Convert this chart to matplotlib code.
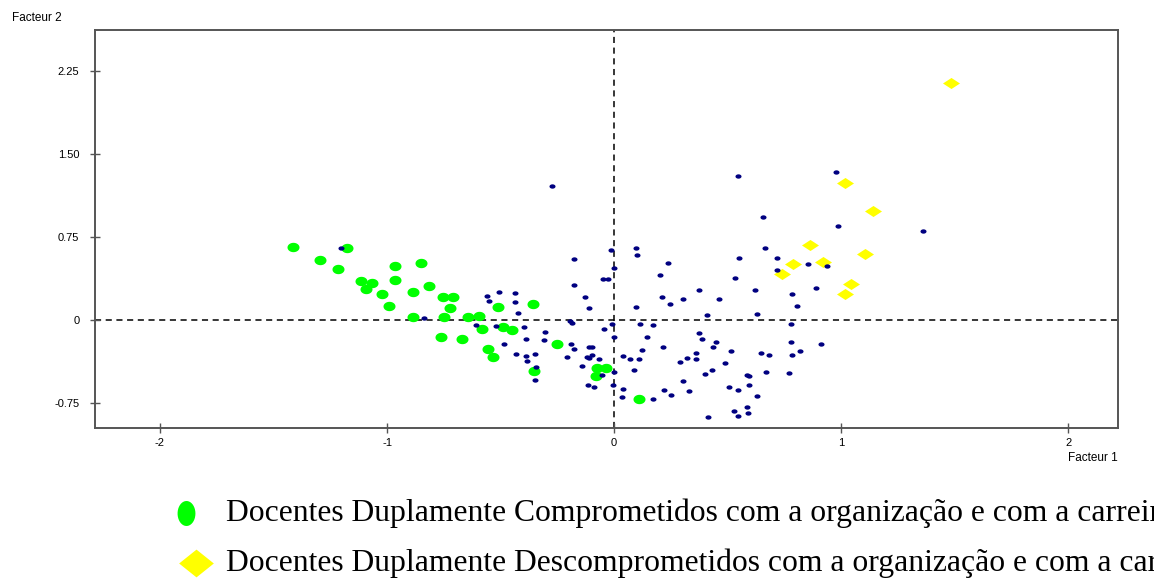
import matplotlib
matplotlib.use('Agg')
import matplotlib.pyplot as plt
import numpy as np
from matplotlib.path import Path
from matplotlib.lines import Line2D

# ── Data (factor coordinates) ─────────────────────────────────────────────────
other_x = [-1.201, -0.175, -0.175, -0.126, -0.109, -0.558, -0.505, -0.437, -0.552, -0.437,
           -0.424, -0.836, -0.608, -0.520, -0.396, -0.194, -0.186, -0.303, -0.389, -0.308,
           -0.483, -0.188, -0.176, -0.109, -0.432, -0.389, -0.349, -0.383, -0.208, -0.120,
           -0.109, -0.344, -0.141, -0.349, -0.116, -0.274, 0.545, -0.012, 0.097, 0.103,
           0.238, 0.001, 0.204, -0.048, -0.025, 0.534, 0.551, 0.373, 0.211, 0.305,
           0.461, 0.245, 0.097, 0.407, -0.010, 0.116, 0.170, -0.045, 0.373, 0.144,
           0.001, 0.388, 0.448, 0.435, 0.217, -0.098, -0.098, -0.065, 0.041, 0.070,
           0.110, 0.123, 0.515, 0.361, 0.320, 0.360, 0.292, 0.488, 0.088, -0.052,
           0.001, 0.429, 0.401, 0.305, -0.087, -0.006, 0.041, 0.219, 0.332, 0.251,
           0.034, 0.170, 0.508, 0.545, 0.413, 0.527, 0.545, 0.975, 0.656, 0.988,
           1.360, 0.664, 0.718, 0.853, 0.937, 0.717, 0.622, 0.887, 0.785, 0.805,
           0.630, 0.778, 0.778, 0.913, 0.649, 0.684, 0.785, 0.819, 0.670, 0.772,
           0.587, 0.596, 0.596, 0.629, 0.585, 0.589]
other_y = [0.653, 0.551, 0.316, 0.205, 0.111, 0.214, 0.253, 0.244, 0.169, 0.160,
           0.066, 0.018, -0.045, -0.057, -0.066, -0.006, -0.030, -0.111, -0.169, -0.178,
           -0.217, -0.214, -0.262, -0.244, -0.310, -0.328, -0.310, -0.373, -0.337, -0.337,
           -0.346, -0.422, -0.413, -0.542, -0.587, 1.208, 1.301, 0.635, 0.653, 0.587,
           0.512, 0.467, 0.409, 0.373, 0.373, 0.382, 0.560, 0.274, 0.205, 0.187,
           0.187, 0.147, 0.120, 0.045, -0.036, -0.039, -0.048, -0.084, -0.115, -0.151,
           -0.151, -0.169, -0.199, -0.244, -0.244, -0.244, -0.316, -0.350, -0.328, -0.350,
           -0.350, -0.274, -0.283, -0.301, -0.341, -0.355, -0.377, -0.386, -0.452, -0.497,
           -0.467, -0.452, -0.488, -0.554, -0.608, -0.590, -0.626, -0.635, -0.644, -0.675,
           -0.693, -0.711, -0.608, -0.635, -0.874, -0.822, -0.867, 1.337, 0.933, 0.849,
           0.804, 0.653, 0.560, 0.503, 0.491, 0.452, 0.271, 0.289, 0.232, 0.129,
           0.054, -0.039, -0.199, -0.217, -0.301, -0.319, -0.319, -0.280, -0.467, -0.476,
           -0.497, -0.506, -0.590, -0.684, -0.786, -0.843]

committed_x = [-1.413, -1.178, -1.295, -1.215, -0.965, -0.850, -1.115, -1.065, -1.093, -0.965,
               -1.023, -0.884, -0.815, -0.991, -0.752, -0.708, -0.722, -0.884, -0.749, -0.642,
               -0.593, -0.580, -0.512, -0.356, -0.488, -0.449, -0.762, -0.668, -0.554, -0.532,
               -0.250, -0.351, -0.076, -0.037, -0.081, 0.110]
committed_y = [0.662, 0.653, 0.542, 0.458, 0.488, 0.518, 0.355, 0.337, 0.280, 0.364,
               0.235, 0.256, 0.310, 0.129, 0.205, 0.205, 0.111, 0.030, 0.027, 0.027,
               0.039, -0.079, 0.120, 0.142, -0.061, -0.090, -0.156, -0.169, -0.265, -0.334,
               -0.214, -0.458, -0.436, -0.431, -0.503, -0.711]

uncommitted_x = [1.485, 1.018, 1.140, 0.862, 1.106, 0.787, 0.918, 0.741, 1.044, 1.018]
uncommitted_y = [2.144, 1.238, 0.985, 0.678, 0.593, 0.509, 0.521, 0.416, 0.322, 0.238]

x_ticks = [-2, -1, 0, 1, 2]
y_ticks = [-0.75, 0, 0.75, 1.50, 2.25]
y_tick_labels = ["-0.75", "0", "0.75", "1.50", "2.25"]

legend_labels = [
    "Docentes Duplamente Comprometidos com a organização e com a carreira",
    "Docentes Duplamente Descomprometidos com a organização e com a carreira",
]

# ── Styles ────────────────────────────────────────────────────────────────────
NAVY = "#000080"
GREEN = "#00FF00"
YELLOW = "#FFFF00"
SPINE = "#555555"


def ellipse_marker(ry):
    t = np.linspace(0, 2 * np.pi, 40)
    return Path(np.column_stack([np.cos(t), ry * np.sin(t)]), closed=True)


def diamond_marker(ry):
    return Path([(-1, 0), (0, ry), (1, 0), (0, -ry), (-1, 0)], closed=True)


fig = plt.figure(figsize=(11.54, 5.84), dpi=100)
fig.patch.set_facecolor("white")
ax = fig.add_axes([0.0823, 0.267, 0.969 - 0.0823, 0.9486 - 0.267])

ax.axhline(0, color="black", lw=1.1, dashes=(4, 3), zorder=1)
ax.axvline(0, color="black", lw=1.1, dashes=(4, 3), zorder=1)

ax.scatter(committed_x, committed_y, s=75, marker=ellipse_marker(0.78),
           color=GREEN, linewidths=0, zorder=2)
ax.scatter(uncommitted_x, uncommitted_y, s=150, marker=diamond_marker(0.65),
           color=YELLOW, linewidths=0, zorder=2)
ax.scatter(other_x, other_y, s=19, marker=ellipse_marker(0.72),
           color=NAVY, linewidths=0, zorder=3)

ax.set_xlim(-2.286, 2.220)
ax.set_ylim(-0.976, 2.620)
ax.set_xticks(x_ticks)
ax.set_xticklabels([str(v) for v in x_ticks])
ax.set_yticks(y_ticks)
ax.set_yticklabels(y_tick_labels)
for sp in ax.spines.values():
    sp.set_color(SPINE)
    sp.set_linewidth(1.4)
ax.tick_params(direction="inout", length=6.5, width=1, color=SPINE,
               labelsize=8, labelcolor="black")
ax.tick_params(axis="y", pad=8)
ax.tick_params(axis="x", pad=4)
for lbl in ax.get_xticklabels() + ax.get_yticklabels():
    lbl.set_family("Liberation Sans")

fig.text(12 / 1154, 1 - 18 / 584, "Facteur 2", fontsize=8.5, family="Liberation Sans",
         ha="left", va="center")
fig.text(1068 / 1154, 1 - 458 / 584, "Facteur 1", fontsize=8.5, family="Liberation Sans",
         ha="left", va="center")

# ── Legend drawn under the plot ───────────────────────────────────────────────
leg_y = [1 - 513 / 584, 1 - 563 / 584]
fig.add_artist(Line2D([186 / 1154], [leg_y[0]], transform=fig.transFigure,
                      marker=ellipse_marker(1.4), markersize=18, color=GREEN,
                      markeredgewidth=0, linestyle="none"))
fig.add_artist(Line2D([196 / 1154], [leg_y[1]], transform=fig.transFigure,
                      marker=diamond_marker(0.8), markersize=25, color=YELLOW,
                      markeredgewidth=0, linestyle="none"))
for y, txt in zip(leg_y, legend_labels):
    fig.text(226 / 1154, y, txt, fontsize=22.8, family="Liberation Serif",
             ha="left", va="center", color="black")

fig.savefig("out.png", dpi=100, facecolor="white")
